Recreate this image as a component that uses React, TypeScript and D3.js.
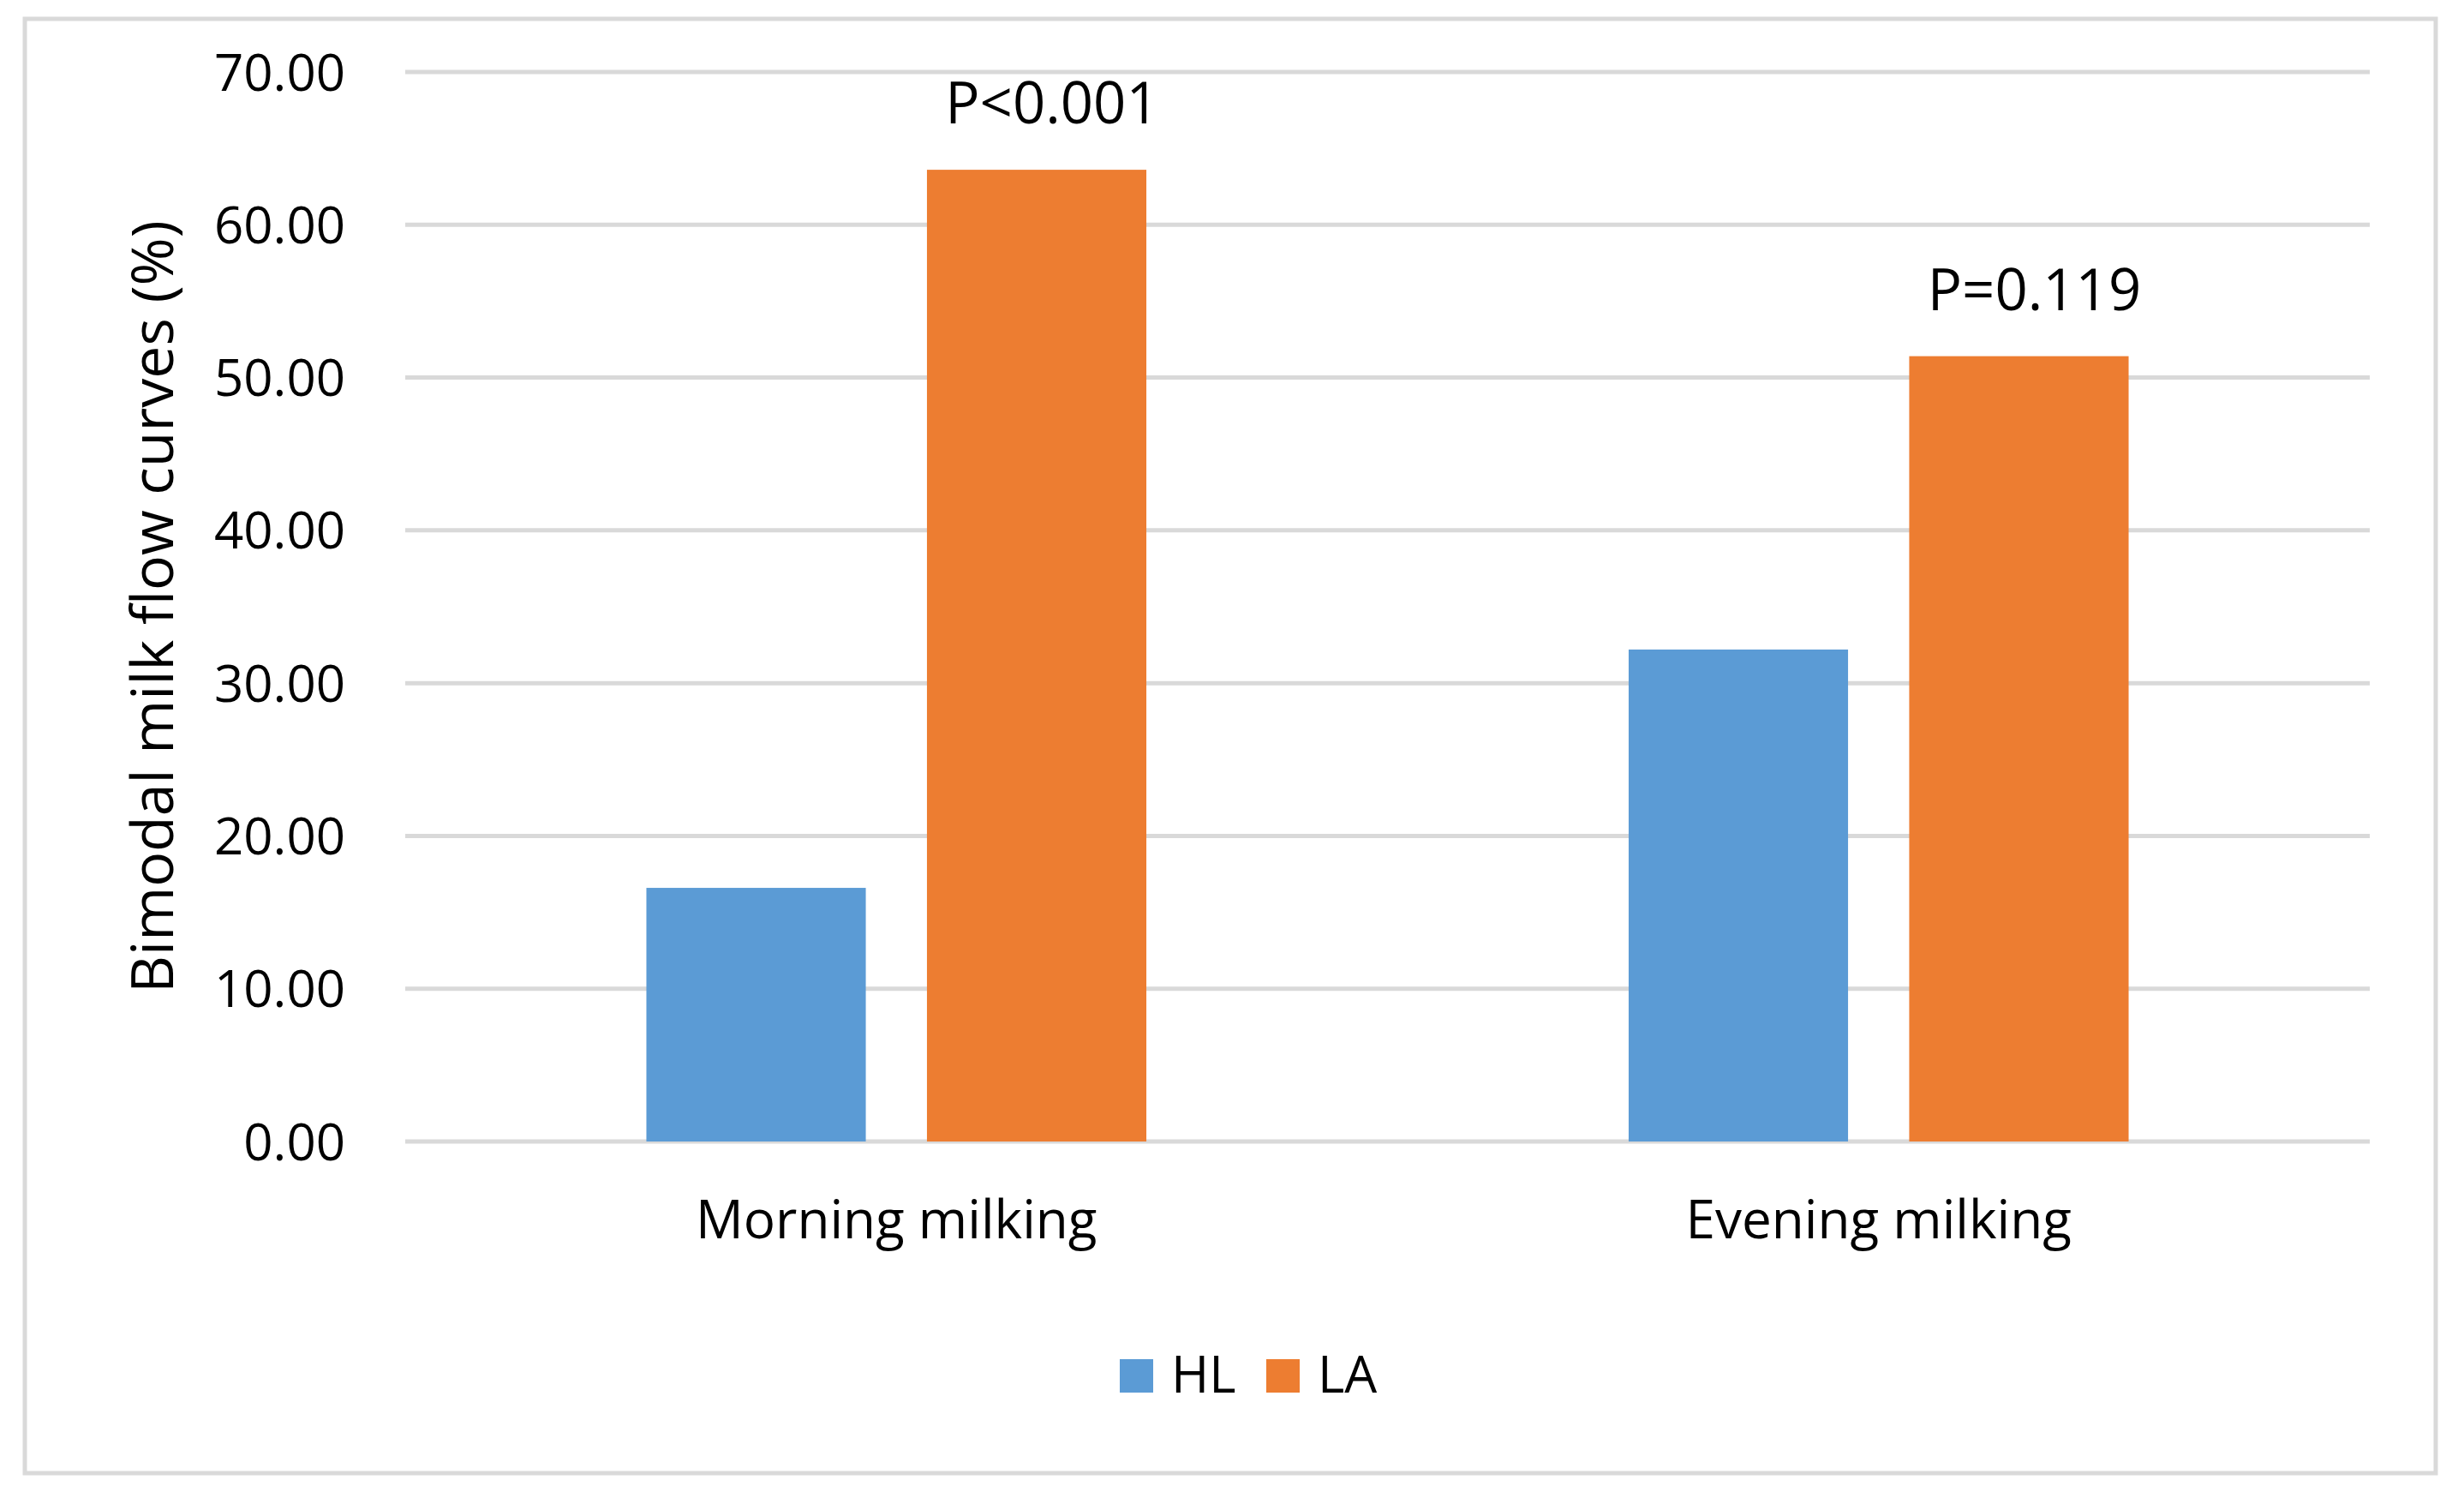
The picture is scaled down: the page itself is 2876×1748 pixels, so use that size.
import { useEffect, useRef } from "react";
import * as d3 from "d3";

const categories = ["Morning milking", "Evening milking"];
const seriesNames = ["HL", "LA"];
const hlValues = [16.6, 32.2];
const laValues = [63.6, 51.4];
const pLabels = ["P<0.001", "P=0.119"];
const yTicks = [0, 10, 20, 30, 40, 50, 60, 70];

const colors = ["#5b9bd5", "#ed7d31"];
const FONT = "'Open Sans', sans-serif";

const App = () => {
    const svgRef = useRef<SVGSVGElement>(null);

    useEffect(() => {
        document.body.style.margin = "0";
        const svg = d3.select(svgRef.current);
        svg.selectAll("*").remove();

        const width = 2876;
        const height = 1748;
        svg.attr("width", width).attr("height", height).style("display", "block");

        svg.append("rect")
            .attr("x", 0).attr("y", 0).attr("width", width).attr("height", height)
            .attr("fill", "#fff");

        // outer chart border
        svg.append("rect")
            .attr("x", 29).attr("y", 22).attr("width", 2814).attr("height", 1697)
            .attr("fill", "none").attr("stroke", "#d9d9d9").attr("stroke-width", 5);

        const left = 473, right = 2766, top = 84, bottom = 1332;

        const x0 = d3.scaleBand().domain(categories).range([left, right])
            .paddingInner(0.491).paddingOuter(0.2455);
        const x1 = d3.scaleBand().domain(seriesNames).range([0, x0.bandwidth()]).paddingInner(0.218);
        const y = d3.scaleLinear().domain([0, 70]).range([bottom, top]);

        // gridlines
        svg.append("g")
            .selectAll("line")
            .data(yTicks)
            .enter()
            .append("line")
            .attr("x1", left).attr("x2", right)
            .attr("y1", (d) => y(d)).attr("y2", (d) => y(d))
            .attr("stroke", "#d9d9d9").attr("stroke-width", 5);

        // tick labels
        svg.append("g")
            .selectAll("text")
            .data(yTicks)
            .enter()
            .append("text")
            .attr("x", 403)
            .attr("y", (d) => y(d))
            .attr("dy", "0.36em")
            .attr("text-anchor", "end")
            .attr("font-family", FONT).attr("font-size", 60)
            .text((d) => d3.format(".2f")(d));

        const series = [hlValues, laValues];
        categories.forEach((cat, ci) => {
            const g = svg.append("g").attr("transform", `translate(${x0(cat)},0)`);
            g.selectAll("rect")
                .data(seriesNames)
                .enter()
                .append("rect")
                .attr("x", (s) => x1(s)!)
                .attr("y", (s, si) => y(series[si][ci]))
                .attr("width", x1.bandwidth())
                .attr("height", (s, si) => bottom - y(series[si][ci]))
                .attr("fill", (s, si) => colors[si]);

            g.append("text")
                .attr("x", x1("LA")! + x1.bandwidth() / 2 + 18)
                .attr("y", y(laValues[ci]) - 54)
                .attr("text-anchor", "middle")
                .attr("font-family", FONT).attr("font-size", 67)
                .text(pLabels[ci]);

            svg.append("text")
                .attr("x", x0(cat)! + x0.bandwidth() / 2)
                .attr("y", 1445)
                .attr("text-anchor", "middle")
                .attr("font-family", FONT).attr("font-size", 62)
                .text(cat);
        });

        // y axis title
        svg.append("text")
            .attr("transform", `translate(202,${(top + bottom) / 2}) rotate(-90)`)
            .attr("text-anchor", "middle")
            .attr("font-family", FONT).attr("font-size", 68)
            .text("Bimodal milk flow curves (%)");

        // legend
        const legendX = [1307, 1478];
        seriesNames.forEach((s, i) => {
            svg.append("rect")
                .attr("x", legendX[i]).attr("y", 1586)
                .attr("width", 39).attr("height", 39)
                .attr("fill", colors[i]);
            svg.append("text")
                .attr("x", legendX[i] + 60).attr("y", 1625)
                .attr("font-family", FONT).attr("font-size", 60)
                .text(s);
        });
    }, []);

    return <svg ref={svgRef} />;
};

export default App;
